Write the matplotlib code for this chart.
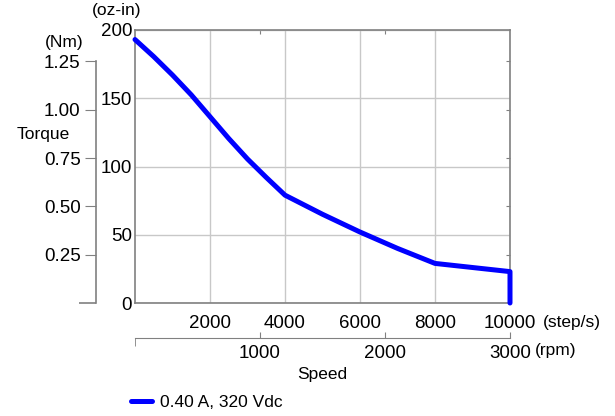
import numpy as np
import matplotlib
matplotlib.use("Agg")
import matplotlib.pyplot as plt
from matplotlib.lines import Line2D

plt.rcParams['font.family'] = ['Liberation Sans', 'DejaVu Sans']

# pull-out torque curve
speed_steps = [0, 500, 1000, 1500, 2000, 2500, 3000, 3500, 4000, 5000, 6000, 7000, 8000, 9000, 10000, 10000]
torque_ozin = [193, 180.5, 167, 152.5, 136.5, 120.5, 105.5, 92, 79, 65, 52, 40, 29, 26, 23, 0]

step_ticks = [2000, 4000, 6000, 8000, 10000]
ozin_ticks = [0, 50, 100, 150, 200]
rpm_ticks = [1000, 2000, 3000]
nm_ticks = [0.25, 0.50, 0.75, 1.00, 1.25]
legend_label = '0.40 A, 320 Vdc'

OZIN_PER_NM = 141.612
RPM_PER_STEP = 3000 / 10000
grey = '#808080'
grid_c = '#c8c8c8'
TICK_FS = 13.5
LBL_FS = 12.5

fig = plt.figure(figsize=(6.15, 4.16), dpi=100)
W, H = 615, 416

def fx(px):
    return px / W

def fy(py):
    return 1 - py / H

# main axes
ax = fig.add_axes([fx(135), fy(303), fx(510) - fx(135), fy(30) - fy(303)])
ax.plot(speed_steps, torque_ozin, color='#0000ff', lw=3.6, solid_capstyle='round',
        solid_joinstyle='round', clip_on=False, zorder=3)
ax.set_xlim(0, 10000)
ax.set_ylim(0, 200)
ax.set_xticks(step_ticks)
ax.set_yticks(ozin_ticks)
ax.set_xticklabels([str(v) for v in step_ticks], fontsize=TICK_FS)
ax.set_yticklabels([str(v) for v in ozin_ticks], fontsize=TICK_FS)
ax.tick_params(axis='both', length=0)
ax.tick_params(axis='x', pad=9)
ax.tick_params(axis='y', pad=2)
ax.grid(True, color=grid_c, lw=1)
for s in ax.spines.values():
    s.set_color(grey)
    s.set_linewidth(1.2)

# small inward ticks on top (rpm) and right (Nm)
top = ax.secondary_xaxis('top', functions=(lambda x: x * RPM_PER_STEP, lambda r: r / RPM_PER_STEP))
top.set_xticks(rpm_ticks[:-1])
top.tick_params(direction='in', length=3, color=grey, labeltop=False)
top.spines['top'].set_visible(False)
right = ax.secondary_yaxis('right', functions=(lambda y: y / OZIN_PER_NM, lambda n: n * OZIN_PER_NM))
right.set_yticks(nm_ticks)
right.tick_params(direction='in', length=3, color=grey, labelright=False)
right.spines['right'].set_visible(False)

fig.text(fx(543), fy(322), '(step/s)', fontsize=LBL_FS, ha='left', va='center')
fig.text(fx(117), fy(11), '(oz-in)', fontsize=LBL_FS, ha='center', va='center')

# rpm axis below
ax_rpm = fig.add_axes([fx(135), fy(338), fx(510) - fx(135), 0.01])
ax_rpm.set_xlim(0, 3000)
ax_rpm.set_ylim(0, 1)
ax_rpm.set_yticks([])
ax_rpm.patch.set_visible(False)
for k in ['top', 'left', 'right']:
    ax_rpm.spines[k].set_visible(False)
ax_rpm.spines['bottom'].set_color(grey)
ax_rpm.set_xticks(rpm_ticks)
ax_rpm.set_xticklabels([str(v) for v in rpm_ticks], fontsize=TICK_FS)
ax_rpm.tick_params(axis='x', direction='in', length=4, color=grey, pad=5)
ax_rpm.set_xticks([0], minor=True)
ax_rpm.tick_params(axis='x', which='minor', direction='out', length=6, color=grey)
fig.text(fx(535), fy(351), '(rpm)', fontsize=LBL_FS, ha='left', va='center')
fig.text(fx(322), fy(374), 'Speed', fontsize=LBL_FS, ha='center', va='center')

# Nm axis on the left
ax_nm = fig.add_axes([fx(96), fy(303), 0.01, fy(30) - fy(303)])
ax_nm.set_ylim(0, 200 / OZIN_PER_NM)
ax_nm.set_xticks([])
ax_nm.patch.set_visible(False)
for k in ['top', 'bottom', 'right']:
    ax_nm.spines[k].set_visible(False)
ax_nm.spines['left'].set_color(grey)
ax_nm.spines['left'].set_linewidth(1.2)
ax_nm.spines['left'].set_bounds(0, 1.25)
ax_nm.set_yticks(nm_ticks)
ax_nm.set_yticklabels(['%.2f' % v for v in nm_ticks], fontsize=TICK_FS)
ax_nm.tick_params(axis='y', direction='out', length=8, color=grey, pad=3)
ax_nm.set_yticks([0], minor=True)
ax_nm.tick_params(axis='y', which='minor', direction='out', length=12, width=1.2, color=grey)
fig.text(fx(64), fy(42), '(Nm)', fontsize=LBL_FS, ha='center', va='center')
fig.text(fx(43), fy(135), 'Torque', fontsize=LBL_FS, ha='center', va='center')

# legend
handle = Line2D([], [], color='#0000ff', lw=3.6, solid_capstyle='round')
fig.legend([handle], [legend_label], loc='center left', bbox_to_anchor=(fx(131), fy(402)),
           frameon=False, fontsize=LBL_FS, handlelength=1.2, handletextpad=0.45,
           borderpad=0, borderaxespad=0)

fig.savefig('out.png', dpi=100)
